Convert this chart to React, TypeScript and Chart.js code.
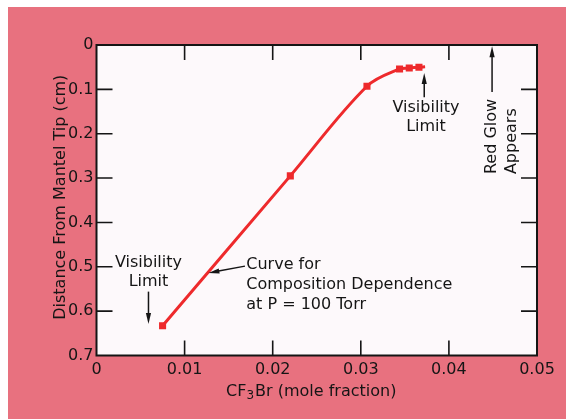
import React, { useEffect, useRef } from "react";
import { Chart, registerables } from "chart.js";

Chart.register(...registerables);

// ---- data ----
const molFraction = [0.0075, 0.022, 0.0307, 0.0344, 0.0355, 0.0366, 0.0373];
const distanceCm = [0.633, 0.295, 0.093, 0.054, 0.052, 0.05, 0.049];
const markerShown = [true, true, true, true, true, true, false];
const xTickValues = [0, 0.01, 0.02, 0.03, 0.04, 0.05];
const yTickValues = [0, 0.1, 0.2, 0.3, 0.4, 0.5, 0.6, 0.7];

const xTitleParts = ["CF", "3", "Br (mole fraction)"];
const yTitle = "Distance From Mantel Tip (cm)";

const FONT = "'DejaVu Sans', 'Liberation Sans', sans-serif";
const PINK = "#e8717f";
const RED = "#ee2a2c";
const INK = "#151515";

function fmt(v: number) {
  return String(Number(v.toFixed(3)));
}

function arrow(ctx: CanvasRenderingContext2D, x1: number, y1: number, x2: number, y2: number) {
  const ang = Math.atan2(y2 - y1, x2 - x1);
  const len = 11;
  const hw = 2.6;
  ctx.save();
  ctx.strokeStyle = INK;
  ctx.fillStyle = INK;
  ctx.lineWidth = 1.5;
  ctx.beginPath();
  ctx.moveTo(x1, y1);
  ctx.lineTo(x2 - Math.cos(ang) * (len - 2), y2 - Math.sin(ang) * (len - 2));
  ctx.stroke();
  ctx.beginPath();
  ctx.moveTo(x2, y2);
  ctx.lineTo(x2 - Math.cos(ang) * len - Math.sin(ang) * hw, y2 - Math.sin(ang) * len + Math.cos(ang) * hw);
  ctx.lineTo(x2 - Math.cos(ang) * len + Math.sin(ang) * hw, y2 - Math.sin(ang) * len - Math.cos(ang) * hw);
  ctx.closePath();
  ctx.fill();
  ctx.restore();
}

const framePlugin = {
  id: "frame",
  beforeDraw(chart: any) {
    const { ctx, chartArea: a, width, height } = chart;
    ctx.save();
    ctx.fillStyle = "#ffffff";
    ctx.fillRect(0, 0, width, height);
    ctx.fillStyle = PINK;
    ctx.fillRect(8, 7, width - 8, height - 7);
    ctx.fillStyle = "#fdf9fb";
    ctx.fillRect(a.left, a.top, a.right - a.left, a.bottom - a.top);
    ctx.restore();
  },
  afterDraw(chart: any) {
    const { ctx, chartArea: a } = chart;
    const xs = chart.scales.x;
    const ys = chart.scales.y;
    ctx.save();
    ctx.strokeStyle = INK;
    ctx.lineWidth = 2;
    ctx.strokeRect(a.left, a.top, a.right - a.left, a.bottom - a.top);
    ctx.lineWidth = 1.6;
    const tl = 15;
    xTickValues.slice(1, -1).forEach((v) => {
      const px = xs.getPixelForValue(v);
      ctx.beginPath();
      ctx.moveTo(px, a.bottom);
      ctx.lineTo(px, a.bottom - tl);
      ctx.moveTo(px, a.top);
      ctx.lineTo(px, a.top + tl);
      ctx.stroke();
    });
    yTickValues.slice(1, -1).forEach((v) => {
      const py = ys.getPixelForValue(v);
      ctx.beginPath();
      ctx.moveTo(a.left, py);
      ctx.lineTo(a.left + 16, py);
      ctx.moveTo(a.right, py);
      ctx.lineTo(a.right - 16, py);
      ctx.stroke();
    });

    // axis titles
    ctx.fillStyle = INK;
    ctx.textBaseline = "middle";
    ctx.font = `16px ${FONT}`;
    const w1 = ctx.measureText(xTitleParts[0]).width;
    const w3 = ctx.measureText(xTitleParts[2]).width;
    ctx.font = `12px ${FONT}`;
    const w2 = ctx.measureText(xTitleParts[1]).width;
    const total = w1 + w2 + w3 + 1;
    const cx = (a.left + a.right) / 2 - 5.5;
    const ty = a.bottom + 36.5;
    let x0 = cx - total / 2;
    ctx.textAlign = "left";
    ctx.font = `16px ${FONT}`;
    ctx.fillText(xTitleParts[0], x0, ty);
    x0 += w1;
    ctx.font = `12px ${FONT}`;
    ctx.fillText(xTitleParts[1], x0, ty + 4);
    x0 += w2 + 1;
    ctx.font = `16px ${FONT}`;
    ctx.fillText(xTitleParts[2], x0, ty);

    ctx.save();
    ctx.translate(a.left - 35.5, (a.top + a.bottom) / 2 - 3);
    ctx.rotate(-Math.PI / 2);
    ctx.textAlign = "center";
    ctx.fillText(yTitle, 0, 0);
    ctx.restore();

    // annotations (positioned in data units)
    const X = (v: number) => xs.getPixelForValue(v);
    const Y = (v: number) => ys.getPixelForValue(v);
    ctx.font = `16px ${FONT}`;
    ctx.textAlign = "center";
    // upper visibility limit
    ctx.fillText("Visibility", X(0.0374), Y(0.142));
    ctx.fillText("Limit", X(0.0374), Y(0.185));
    arrow(ctx, X(0.0372), Y(0.118), X(0.0372), Y(0.063));
    // lower visibility limit
    ctx.fillText("Visibility", X(0.0059), Y(0.491));
    ctx.fillText("Limit", X(0.0059), Y(0.534));
    arrow(ctx, X(0.0059), Y(0.556), X(0.0059), Y(0.629));
    // curve label
    ctx.textAlign = "left";
    ctx.fillText("Curve for", X(0.017), Y(0.496));
    ctx.fillText("Composition Dependence", X(0.017), Y(0.541));
    ctx.fillText("at P = 100 Torr", X(0.017), Y(0.585));
    arrow(ctx, X(0.01685), Y(0.4985), X(0.0127), Y(0.514));
    // red glow
    ctx.save();
    ctx.translate(X(0.0449), Y(0.291));
    ctx.rotate(-Math.PI / 2);
    ctx.textAlign = "left";
    ctx.fillText("Red Glow", 0, 0);
    ctx.fillText("Appears", 0, 20);
    ctx.restore();
    arrow(ctx, X(0.0449), Y(0.106), X(0.0449), Y(0.003));
    ctx.restore();
  },
};

export default function App() {
  const ref = useRef<HTMLCanvasElement | null>(null);
  useEffect(() => {
    document.body.style.margin = "0";
    document.body.style.overflow = "hidden";
    if (!ref.current) return;
    const chart = new Chart(ref.current, {
      type: "line",
      data: {
        datasets: [
          {
            data: molFraction.map((x, i) => ({ x, y: distanceCm[i] })),
            borderColor: RED,
            backgroundColor: RED,
            borderWidth: 3,
            pointStyle: "rect",
            pointRadius: markerShown.map((m) => (m ? 5 : 0)),
            pointBorderWidth: 0,
            tension: 0.35,
            fill: false,
          },
        ],
      },
      options: {
        responsive: false,
        animation: false,
        events: [],
        layout: { padding: { top: 45, right: 29, left: 0, bottom: 0 } },
        plugins: { legend: { display: false }, tooltip: { enabled: false } },
        scales: {
          x: {
            type: "linear",
            min: 0,
            max: 0.05,
            afterFit: (s: any) => {
              s.height = 63.5;
            },
            afterBuildTicks: (s: any) => {
              s.ticks = xTickValues.map((v) => ({ value: v }));
            },
            grid: { display: false, drawTicks: false },
            border: { display: false },
            ticks: {
              color: INK,
              padding: 5,
              maxRotation: 0,
              font: { family: FONT, size: 16 },
              callback: (v: any) => fmt(Number(v)),
            },
          },
          y: {
            type: "linear",
            min: 0,
            max: 0.7,
            reverse: true,
            afterFit: (s: any) => {
              s.width = 96.5;
            },
            afterBuildTicks: (s: any) => {
              s.ticks = yTickValues.map((v) => ({ value: v }));
            },
            grid: { display: false, drawTicks: false },
            border: { display: false },
            ticks: {
              color: INK,
              padding: 3,
              font: { family: FONT, size: 16 },
              callback: (v: any) => fmt(Number(v)),
            },
          },
        },
      },
      plugins: [framePlugin],
    } as any);
    return () => chart.destroy();
  }, []);
  return (
    <div style={{ width: 566, height: 419 }}>
      <canvas ref={ref} width={566} height={419} style={{ display: "block" }} />
    </div>
  );
}
